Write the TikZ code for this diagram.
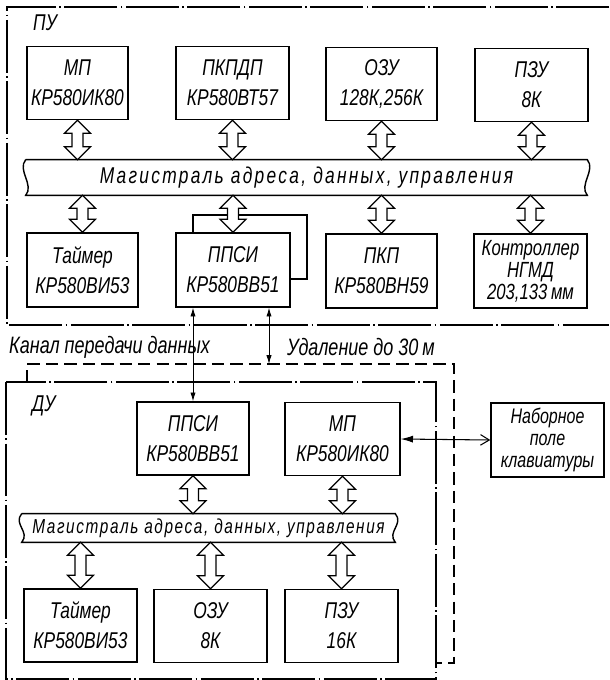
\documentclass[tikz,border=0pt]{standalone}
\usepackage{fontspec}
\setmainfont{Liberation Sans}[FakeStretch=0.76]
\usetikzlibrary{arrows.meta, calc, positioning}

\begin{document}
\begin{tikzpicture}[
            x=0.02cm, y=-0.02cm,
            font=\fontsize{13}{15}\selectfont\itshape,
            blok/.style={draw, line width=0.8pt, align=center, inner sep=0pt,
                         minimum width=2.26cm, minimum height=1.46cm},
            shina/.style={inner sep=0pt, minimum height=0.7cm,
                          font=\fontsize{13}{15}\selectfont\itshape\addfontfeature{LetterSpace=10}},
            kontur/.style={line width=0.8pt},
            ramka/.style={line width=0.6pt, dash pattern=on 30pt off 2pt on 1pt off 2pt},
            shtrih/.style={line width=0.6pt, dash pattern=on 7pt off 3.5pt},
            tonk/.style={line width=0.6pt},
            kanal/.style={line width=0.5pt, {Latex[length=5pt,width=3pt]}-{Latex[length=5pt,width=3pt]}},
            klav/.style={line width=0.6pt, {Latex[length=7pt,width=4pt]}-{Straight Barb[length=5pt,width=6pt]}},
            % polaya dvunapravlennaya strelka mezhdu blokom i magistralyu
            dvustr/.style={draw, fill=white, line width=0.7pt, line join=miter,
                to path={let \p1=(\tikztostart), \p2=(\tikztotarget) in
                    (\x1,\y1) -- ++(7.4pt,-7.4pt) -- ++(-4.3pt,0pt)
                    -- (\x1+3.1pt,\y2+7.4pt) -- ++(4.3pt,0pt) -- (\x1,\y2)
                    -- ++(-7.4pt,7.4pt) -- ++(4.3pt,0pt)
                    -- (\x1-3.1pt,\y1-7.4pt) -- ++(-4.3pt,0pt) -- cycle}}
        ]
        \useasboundingbox (0,0) rectangle (609,680);

        % --- ПУ ---
        \draw[ramka] (609,7) -- (7,7) -- (7,325) -- (609,325);
        \node[anchor=west] (pu) at (27,23) {ПУ};

        \node[blok, minimum width=2.02cm] (mp1) at (77.5,83) {МП\\[2pt]КР580ИК80};
        \node[blok] (pkpdp) at (232.5,83) {ПКПДП\\[2pt]КР580ВТ57};
        \node[blok, minimum width=2.22cm] (ozu1) at (381.5,84) {ОЗУ\\[2pt]128К,256К};
        \node[blok] (pzu1) at (531.5,85) {ПЗУ\\[2pt]8К};

        \node[shina, minimum width=11.22cm] (bus1) at (306.5,177.5)
            {Магистраль адреса, данных, управления};

        \node[blok, minimum width=2.22cm, minimum height=1.48cm] (tm1) at (82.5,270)
            {Таймер\\[2pt]КР580ВИ53};
        \node[blok, minimum width=2.28cm, minimum height=1.48cm] (ppsi1) at (233,270)
            {ППСИ\\[2pt]КР580ВВ51};
        \node[blok, minimum width=2.22cm, minimum height=1.48cm] (pkp) at (381.5,271)
            {ПКП\\[2pt]КР580ВН59};
        \node[blok, minimum height=1.48cm, font=\fontsize{12.5}{12.5}\selectfont\itshape]
            (ngmd) at (530.5,271) {Контроллер\\НГМД\\203,133\,мм};

        % --- ДУ ---
        \draw[shtrih] (27,382) -- (27,364) -- (454,364) -- (454,663) -- (436,663);
        \draw[ramka] (6,382) rectangle (436,679);
        \node[anchor=west] (du) at (26,406) {ДУ};

        \node[blok, minimum width=2.24cm] (ppsi2) at (193,438.5) {ППСИ\\[2pt]КР580ВВ51};
        \node[blok, minimum width=2.3cm] (mp2) at (342.5,439) {МП\\[2pt]КР580ИК80};
        \node[blok, minimum height=1.48cm, font=\fontsize{12}{12.5}\selectfont\itshape]
            (kbd) at (547.5,440) {Наборное\\поле\\клавиатуры};

        \node[shina, minimum width=7.46cm, minimum height=0.56cm,
              font=\fontsize{11.5}{13}\selectfont\itshape\addfontfeature{LetterSpace=8}]
            (bus2) at (208.5,528) {Магистраль адреса, данных, управления};

        \node[blok] (tm2) at (80.5,625.5) {Таймер\\[2pt]КР580ВИ53};
        \node[blok] (ozu2) at (210.5,626) {ОЗУ\\[2pt]8К};
        \node[blok] (pzu2) at (341.5,626) {ПЗУ\\[2pt]16К};

        % kontury magistraley
        \foreach \b in {bus1,bus2}
            \draw[kontur] (\b.north west) -- (\b.north east)
                .. controls +(5pt,-6pt) and +(-5pt,6pt) .. (\b.south east)
                -- (\b.south west)
                .. controls +(5pt,6pt) and +(-5pt,-6pt) .. (\b.north west);

        % petlya u ППСИ
        \coordinate (petlya) at (307,215);
        \draw[tonk] (ppsi1.north -| ppsi2.north) |- (petlya)
            |- ([yshift=-0.18cm]ppsi1.east);

        % svyazi s magistralyami
        \draw[dvustr] (mp1.south) to (bus1.north);
        \draw[dvustr] (pkpdp.south) to (bus1.north);
        \draw[dvustr] (ozu1.south) to (bus1.north);
        \draw[dvustr] (pzu1.south) to (bus1.north);
        \draw[dvustr] (tm1.north |- bus1.south) to (tm1.north);
        \draw[dvustr] (ppsi1.north |- bus1.south) to (ppsi1.north);
        \draw[dvustr] (pkp.north |- bus1.south) to (pkp.north);
        \draw[dvustr] (ngmd.north |- bus1.south) to (ngmd.north);

        \draw[dvustr] (ppsi2.south) to (bus2.north);
        \draw[dvustr] (mp2.south) to (bus2.north);
        \draw[dvustr] (tm2.north |- bus2.south) to (tm2.north);
        \draw[dvustr] (ozu2.north |- bus2.south) to (ozu2.north);
        \draw[dvustr] (pzu2.north |- bus2.south) to (pzu2.north);

        % kanal peredachi
        \coordinate (dal) at (269,364);
        \draw[kanal] (ppsi1.south -| ppsi2.north) -- (ppsi2.north);
        \draw[kanal] (ppsi1.south -| dal) -- (dal);
        \node[anchor=west, font=\fontsize{13.5}{15}\selectfont\itshape] (kanal) at (3,347)
            {Канал передачи данных};
        \node[anchor=west, font=\fontsize{13.5}{15}\selectfont\itshape] (udal) at (281,347)
            {Удаление до 30\,м};

        \draw[klav] (mp2.east) -- (kbd.west);

        \end{tikzpicture}
\end{document}
